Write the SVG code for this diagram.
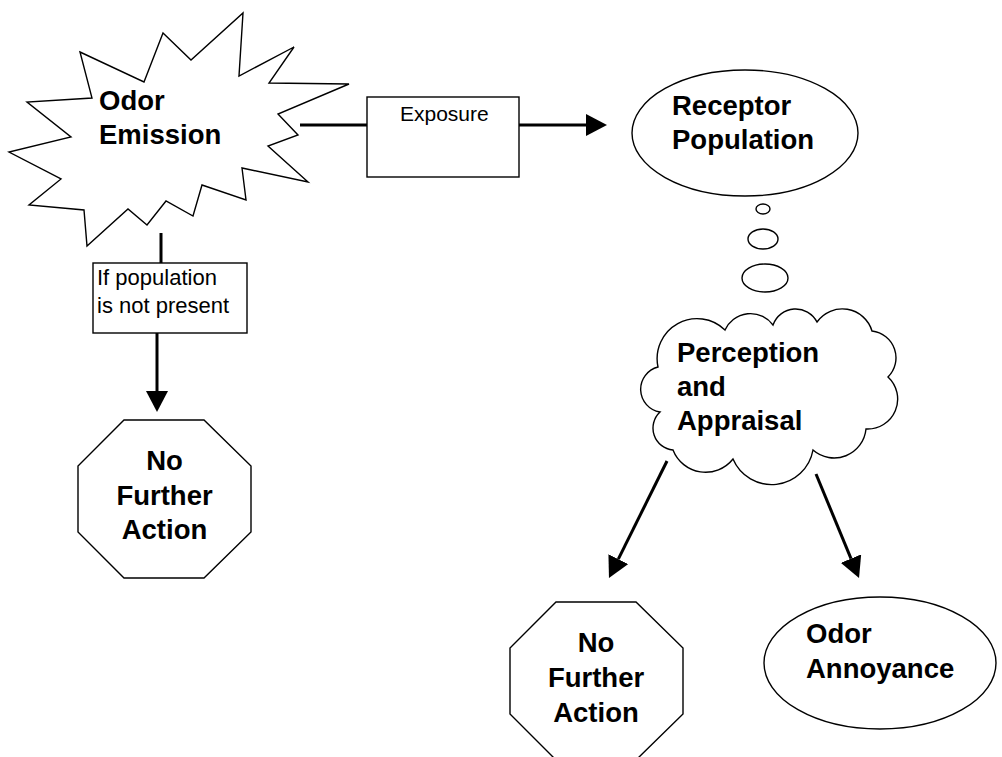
<svg xmlns="http://www.w3.org/2000/svg" width="1002" height="757" viewBox="0 0 1002 757">
<defs>
<marker id="ah" markerUnits="userSpaceOnUse" markerWidth="22" markerHeight="22" refX="0" refY="11" orient="auto">
<path d="M0,0 L21,11 L0,22 Z" fill="#000"/>
</marker>
<style>
.shape{fill:#fff;stroke:#000;stroke-width:1.4}
.conn{stroke:#000;stroke-width:3;fill:none}
.b{font-family:"Liberation Sans",Arial,sans-serif;font-weight:bold;font-size:27.5px;fill:#000}
.r{font-family:"Liberation Sans",Arial,sans-serif;font-size:22px;fill:#000}
.s{font-family:"Liberation Sans",Arial,sans-serif;font-size:21px;fill:#000}
</style>
</defs>
<rect width="1002" height="757" fill="#fff"/>
<g id="connectors">
<line class="conn" x1="300" y1="125" x2="367" y2="125"/>
<line class="conn" x1="519" y1="125" x2="586" y2="125" marker-end="url(#ah)"/>
<line class="conn" x1="161" y1="233" x2="161" y2="263"/>
<line class="conn" x1="157" y1="333" x2="157" y2="391" marker-end="url(#ah)"/>
<line class="conn" x1="667" y1="461" x2="618.3" y2="559.2" marker-end="url(#ah)"/>
<line class="conn" x1="816" y1="474" x2="851" y2="558.6" marker-end="url(#ah)"/>
</g>
<g id="odor-emission">
<polygon class="shape" points="80,52 144,82 163,33 191,60 243,13 239,76 294,47 269,83 349,84 278,114 298,135 268,146 308,182 242,168 246,200 202,185 193,216 166,201 147,225 128,209 87,246 84,210 29,205 61,179 9,152 71,137 27,102 92,98"/>
<text class="b" x="99" y="110">Odor</text>
<text class="b" x="99" y="144">Emission</text>
</g>
<g id="exposure">
<rect class="shape" x="367" y="97" width="152" height="80"/>
<text class="s" x="400" y="121">Exposure</text>
</g>
<g id="receptor-population">
<ellipse class="shape" cx="745" cy="133" rx="113" ry="63"/>
<text class="b" x="672" y="115">Receptor</text>
<text class="b" x="672" y="149">Population</text>
</g>
<g id="thought-bubbles">
<ellipse class="shape" cx="763" cy="209" rx="7" ry="5"/>
<ellipse class="shape" cx="763" cy="239" rx="15" ry="10"/>
<ellipse class="shape" cx="765" cy="278" rx="23" ry="14"/>
</g>
<g id="perception-appraisal">
<path class="shape" d="M658,367 A40,40 0 0 1 725,330 A28,28 0 0 1 773,325 A24,24 0 0 1 817,322 A31,31 0 0 1 872,331 A27,27 0 0 1 888,377 A30,30 0 0 1 866,429 A32,32 0 0 1 813,450 A42,42 0 0 1 733,459 A35,35 0 0 1 673,450 A22,22 0 0 1 660,412 A23,23 0 0 1 658,367 Z"/>
<text class="b" x="677" y="362">Perception</text>
<text class="b" x="677" y="396">and</text>
<text class="b" x="677" y="430">Appraisal</text>
</g>
<g id="if-population">
<rect class="shape" x="93" y="263" width="154" height="70"/>
<text class="r" x="97" y="285">If population</text>
<text class="r" x="97" y="313">is not present</text>
</g>
<g id="no-further-action-left">
<polygon class="shape" points="124,420 204,420 251,466 251,532 204,578 124,578 78,532 78,466"/>
<text class="b" x="164.5" y="470" text-anchor="middle">No</text>
<text class="b" x="164.5" y="505" text-anchor="middle">Further</text>
<text class="b" x="164.5" y="539" text-anchor="middle">Action</text>
</g>
<g id="no-further-action-right">
<polygon class="shape" points="556,602 636,602 683,648 683,714 636,760 556,760 510,714 510,648"/>
<text class="b" x="596" y="652" text-anchor="middle">No</text>
<text class="b" x="596" y="687" text-anchor="middle">Further</text>
<text class="b" x="596" y="722" text-anchor="middle">Action</text>
</g>
<g id="odor-annoyance">
<ellipse class="shape" cx="880" cy="663" rx="116" ry="66"/>
<text class="b" x="806" y="643">Odor</text>
<text class="b" x="806" y="678">Annoyance</text>
</g>
</svg>
